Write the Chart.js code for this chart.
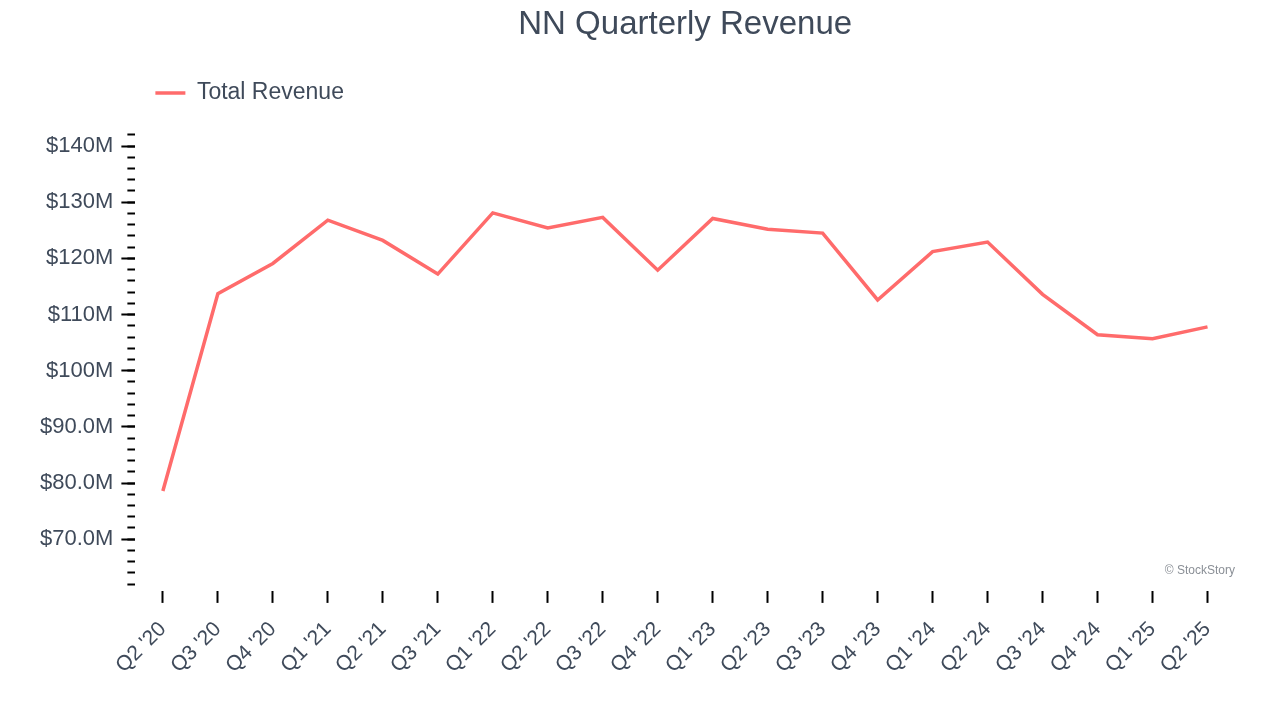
<!DOCTYPE html>
<html>
<head>
<meta charset="utf-8">
<title>NN Quarterly Revenue</title>
<script src="https://cdn.jsdelivr.net/npm/chart.js@4.4.1/dist/chart.umd.min.js"></script>
<style>
  html, body { margin: 0; padding: 0; background: #fff; }
  #wrap { width: 1280px; height: 720px; }
</style>
</head>
<body>
<div id="wrap"><canvas id="revenueChart" width="1280" height="720"></canvas></div>
<script>
'use strict'

// quarters shown on the x axis
const quarters = [
    "Q2 '20", "Q3 '20", "Q4 '20", "Q1 '21", "Q2 '21", "Q3 '21", "Q1 '22", "Q2 '22",
    "Q3 '22", "Q4 '22", "Q1 '23", "Q2 '23", "Q3 '23", "Q4 '23", "Q1 '24", "Q2 '24",
    "Q3 '24", "Q4 '24", "Q1 '25", "Q2 '25"
];

// total revenue, in $M
const totalRevenue = [
    78.6, 113.7, 119.1, 126.8, 123.2, 117.2, 128.1, 125.4,
    127.3, 117.9, 127.1, 125.2, 124.5, 112.6, 121.2, 122.9,
    113.6, 106.4, 105.7, 107.8
];

// labelled y ticks and the small ones between them ($M)
const majorTicks = [70, 80, 90, 100, 110, 120, 130, 140];
const minorTicks = [62, 64, 66, 68, 70, 72, 74, 76, 78, 80, 82, 84, 86, 88, 90, 92, 94, 96, 98,
    100, 102, 104, 106, 108, 110, 112, 114, 116, 118, 120, 122, 124, 126, 128, 130,
    132, 134, 136, 138, 140, 142];

const yMin = 60.8;
const yMax = 145.6;

const textColor = '#3f4a5a';
const lineColor = '#ff6b6b';
const fontFamily = '"Liberation Sans", Arial, Helvetica, sans-serif';

function moneyLabel(v) {
    return v >= 100 ? '$' + v + 'M' : '$' + v.toFixed(1) + 'M';
}

const watermark = {
    id: 'watermark',
    afterDraw(chart) {
        const { ctx, chartArea } = chart;
        ctx.save();
        ctx.font = '12px ' + fontFamily;
        ctx.fillStyle = '#8a8f96';
        ctx.textAlign = 'right';
        ctx.textBaseline = 'middle';
        ctx.fillText('\u00a9 StockStory', chartArea.right, chartArea.bottom - 20);
        ctx.restore();
    }
};

const ctx = document.getElementById('revenueChart').getContext('2d');
const revenueChart = new Chart(ctx, {
    type: 'line',
    data: {
        labels: quarters,
        datasets: [{
            label: 'Total Revenue',
            data: totalRevenue,
            borderColor: lineColor,
            backgroundColor: lineColor,
            borderWidth: 3.5,
            pointRadius: 0,
            tension: 0,
            fill: false
        }]
    },
    options: {
        responsive: false,
        animation: false,
        layout: { padding: { left: 32, right: 45, top: 0, bottom: 28 } },
        plugins: {
            title: {
                display: true,
                text: 'NN Quarterly Revenue',
                color: textColor,
                fullSize: false,
                font: { family: fontFamily, size: 33, weight: 'normal' },
                padding: { top: 5, bottom: 17 }
            },
            legend: {
                display: true,
                align: 'start',
                fullSize: false,
                labels: {
                    color: textColor,
                    font: { family: fontFamily, size: 23 },
                    usePointStyle: true,
                    pointStyle: 'line',
                    pointStyleWidth: 30,
                    padding: 20
                }
            },
            tooltip: { enabled: false }
        },
        scales: {
            x: {
                offset: true,
                border: { display: false },
                grid: {
                    drawOnChartArea: false,
                    drawTicks: true,
                    tickLength: 12,
                    tickColor: '#000',
                    tickWidth: 2
                },
                ticks: {
                    color: textColor,
                    font: { family: fontFamily, size: 21 },
                    minRotation: 45,
                    maxRotation: 45,
                    autoSkip: false,
                    padding: 14
                }
            },
            y: {
                position: 'left',
                weight: 1,
                min: yMin,
                max: yMax,
                border: { display: false },
                grid: {
                    drawOnChartArea: false,
                    tickLength: 14,
                    tickWidth: 2,
                    tickColor: '#000'
                },
                afterBuildTicks: (scale) => { scale.ticks = majorTicks.map(v => ({ value: v })); },
                ticks: {
                    padding: 8,
                    color: textColor,
                    font: { family: fontFamily, size: 22 },
                    callback: (v) => moneyLabel(v)
                }
            },
            yMinor: {
                position: 'left',
                weight: 0,
                min: yMin,
                max: yMax,
                border: { display: false },
                grid: {
                    drawOnChartArea: false,
                    tickLength: 8,
                    tickWidth: 2,
                    tickColor: '#000'
                },
                afterBuildTicks: (scale) => { scale.ticks = minorTicks.map(v => ({ value: v })); },
                ticks: { display: false },
                afterFit: (scale) => { scale.width = 0; }
            }
        }
    },
    plugins: [watermark]
});
</script>
</body>
</html>
